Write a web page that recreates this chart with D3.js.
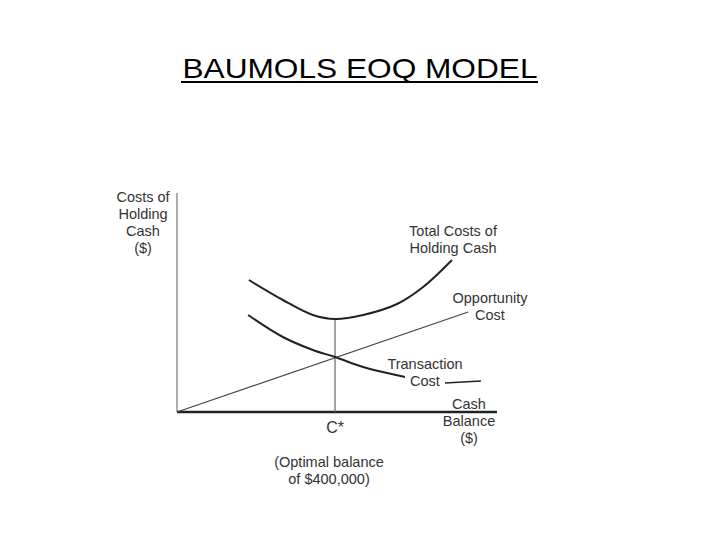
<!DOCTYPE html>
<html>
<head>
<meta charset="utf-8">
<script src="https://cdn.jsdelivr.net/npm/d3@7.9.0/dist/d3.min.js"></script>
<style>
  body { margin: 0; background: #fff; }
  svg text { font-family: "Liberation Sans", Arial, sans-serif; }
</style>
</head>
<body>
<svg id="chart" width="720" height="540"></svg>
<script>
// Cash balance in $000s, costs in arbitrary units
const totalCost = [[182, 132], [268, 112], [344, 97], [400, 93], [471, 97], [557, 108], [623, 125], [696, 152]];
const transactionCost = [[180, 97], [268, 75], [344, 62], [400, 55], [471, 45], [532, 39], [577, 35]];
const opportunityCost = [[0, 0], [737, 100]];
const optimal = 400;

const svg = d3.select('#chart');

// title
svg.append('text')
    .attr('x', 360).attr('y', 78)
    .attr('text-anchor', 'middle')
    .attr('font-size', 28)
    .attr('textLength', 355)
    .attr('lengthAdjust', 'spacingAndGlyphs')
    .attr('fill', '#000')
    .text('BAUMOLS EOQ MODEL');
svg.append('line')
    .attr('x1', 181).attr('x2', 538)
    .attr('y1', 82).attr('y2', 82)
    .attr('stroke', '#000').attr('stroke-width', 2);

// scales: origin at (177, 412)
const x = d3.scaleLinear().domain([0, 810]).range([177, 497]);
const y = d3.scaleLinear().domain([0, 219]).range([412, 193]);

const line = d3.line().x(d => x(d[0])).y(d => y(d[1]));
const curve = d3.line().x(d => x(d[0])).y(d => y(d[1])).curve(d3.curveCatmullRom);

// axes
svg.append('line')
    .attr('x1', x(0)).attr('x2', x(0))
    .attr('y1', y(219)).attr('y2', y(0))
    .attr('stroke', '#777').attr('stroke-width', 1.2);
svg.append('line')
    .attr('x1', x(0)).attr('x2', x(810))
    .attr('y1', y(0)).attr('y2', y(0))
    .attr('stroke', '#222').attr('stroke-width', 2.5);

// C* drop line
const tMin = totalCost.find(d => d[0] === optimal);
svg.append('line')
    .attr('x1', x(optimal)).attr('x2', x(optimal))
    .attr('y1', y(tMin[1])).attr('y2', y(0))
    .attr('stroke', '#666').attr('stroke-width', 1.2);

// opportunity cost
svg.append('path')
    .attr('d', line(opportunityCost))
    .attr('fill', 'none').attr('stroke', '#444').attr('stroke-width', 1.2);

// transaction cost
svg.append('path')
    .attr('d', curve(transactionCost))
    .attr('fill', 'none').attr('stroke', '#222').attr('stroke-width', 2);

// total cost
svg.append('path')
    .attr('d', curve(totalCost))
    .attr('fill', 'none').attr('stroke', '#222').attr('stroke-width', 2);

// short leader after "Cost"
svg.append('line')
    .attr('x1', 445).attr('x2', 481)
    .attr('y1', 383).attr('y2', 381)
    .attr('stroke', '#222').attr('stroke-width', 1.6);

// labels
const labels = [
  { x: 143, y: 202, lines: ['Costs of', 'Holding', 'Cash', '($)'] },
  { x: 453, y: 236, lines: ['Total Costs of', 'Holding Cash'] },
  { x: 490, y: 303, lines: ['Opportunity', 'Cost'] },
  { x: 425, y: 369, lines: ['Transaction', 'Cost'] },
  { x: 469, y: 409, lines: ['Cash', 'Balance', '($)'] },
  { x: 329, y: 467, lines: ['(Optimal balance', 'of $400,000)'] }
];

labels.forEach(l => {
  const t = svg.append('text')
      .attr('text-anchor', 'middle')
      .attr('font-size', 14.5)
      .attr('fill', '#333');
  l.lines.forEach((s, i) => {
    t.append('tspan')
        .attr('x', l.x)
        .attr('y', l.y + i * 17)
        .text(s);
  });
});

svg.append('text')
    .attr('x', x(optimal)).attr('y', 433)
    .attr('text-anchor', 'middle')
    .attr('font-size', 16)
    .attr('fill', '#333')
    .text('C*');
</script>
</body>
</html>
